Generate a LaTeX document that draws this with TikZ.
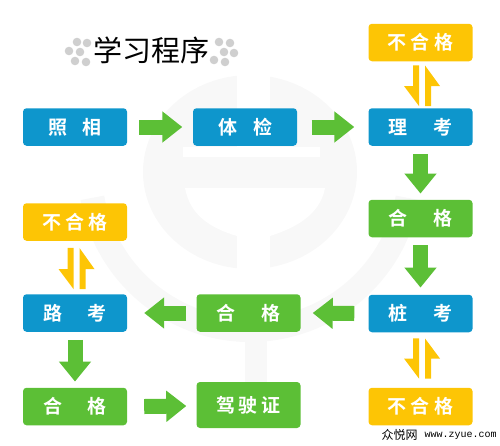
\documentclass[tikz,border=0pt]{standalone}
\usepackage{fontspec}
\newfontfamily\cjkb{Noto Sans CJK SC Bold}
\newfontfamily\cjkl{Noto Sans CJK SC}
\setmainfont{Noto Sans CJK SC}
\setmonofont{Liberation Mono}
\usetikzlibrary{arrows.meta,calc}
\definecolor{bluebox}{HTML}{0E96CC}
\definecolor{greenbox}{HTML}{5CBF36}
\definecolor{yellowbox}{HTML}{FDC505}
\definecolor{wmark}{HTML}{F8F8F8}
\definecolor{dotgray}{HTML}{CFCFCF}
\tikzset{
  boxbase/.style={rounded corners=3.5pt,minimum width=104pt,minimum height=37.5pt,inner sep=0pt,text=white,font=\cjkb\fontsize{19}{19}\selectfont},
  bluestep/.style={boxbase,fill=bluebox},
  greenstep/.style={boxbase,fill=greenbox},
  yellowstep/.style={boxbase,fill=yellowbox},
  flow/.style={draw=greenbox,line width=15pt,-{Triangle[length=20pt,width=30pt]}},
  flowv/.style={draw=greenbox,line width=15pt,-{Triangle[length=20pt,width=31pt]}},
  pawdot/.style={circle,fill=dotgray,inner sep=0pt,minimum size=8.6pt},
}
% #1 upper node, #2 lower node, #3 gap under the upper node, #4 gap over the lower node
\newcommand{\harpoons}[4]{%
  \fill[yellowbox] ($(#1.south)+(-7.5,#3)$) -- ++(6,0) -- ($(#2.north)+(-1.5,-#4)$) -- ++(-15,-20) -- ++(9,0) -- cycle;
  \fill[yellowbox] ($(#2.north)+(4.5,-#4)$) -- ++(6,0) -- ++(0,-20) -- ++(9,0) -- ($(#1.south)+(4.5,#3)$) -- cycle;
}
\begin{document}
\begin{tikzpicture}[x=1pt,y=-1pt]
\useasboundingbox (0,0) rectangle (500,445);
% background emblem
\draw[wmark,line width=24pt] (92.4,197.8) arc[start angle=190,end angle=350,radius=160pt];
\fill[wmark] (250,172) ellipse[x radius=107pt,y radius=97pt];
\fill[white] (183,147) rectangle (320,157);
\fill[white] (185,188) -- (325,188) .. controls (320,215) and (295,228) .. (270,236) -- (270,280) -- (237,280) -- (237,236) .. controls (210,228) and (190,215) .. (185,188) -- cycle;
\fill[white] (237,60) rectangle (270,147);
\fill[wmark] (245,325) rectangle (267,382);
% title
\foreach \n/\px/\py in {a/77/42,b/87/43,c/69/51,d/80/52,e/75/61,f/86/62,g/219/42,h/230/43,i/224/52,j/234/53,k/214/60,l/225/62}
  \node[pawdot] (dot\n) at (\px,\py) {};
\node[text=white,font=\cjkl\fontsize{29}{29}\selectfont] (titleshadow) at (153,51.5) {学习程序};
\node[text=black,font=\cjkl\fontsize{29}{29}\selectfont] (title) at (151.5,50) {学习程序};
% boxes
\node[bluestep] (photo) at (75,127) {照\hspace{16pt}相};
\node[bluestep] (health) at (245,127) {体\hspace{16pt}检};
\node[bluestep] (theory) at (420.5,127) {理\hspace{26pt}考};
\node[yellowstep] (fail1) at (420.5,42.5) {不\hspace{4.5pt}合\hspace{4.5pt}格};
\node[greenstep] (pass1) at (420.5,218.5) {合\hspace{26pt}格};
\node[bluestep] (pile) at (420.5,313.5) {桩\hspace{26pt}考};
\node[yellowstep] (fail2) at (420.5,406.5) {不\hspace{4.5pt}合\hspace{4.5pt}格};
\node[greenstep] (pass2) at (248.5,313) {合\hspace{26pt}格};
\node[bluestep] (road) at (75,313) {路\hspace{26pt}考};
\node[yellowstep] (fail3) at (75,222) {不\hspace{4.5pt}合\hspace{4.5pt}格};
\node[greenstep] (pass3) at (75,406.5) {合\hspace{26pt}格};
\node[greenstep,minimum height=46pt] (licence) at (248.5,405) {驾\hspace{3.5pt}驶\hspace{3.5pt}证};
% connectors
\draw[flow] ($(photo.east)+(12,0)$) -- ($(health.west)+(-10.5,0)$);
\draw[flow] ($(health.east)+(14.5,0)$) -- ($(theory.west)+(-14,0)$);
\draw[flowv] ($(theory.south)+(0,8)$) -- ($(pass1.north)+(0,-6)$);
\draw[flowv] ($(pass1.south)+(0,8)$) -- ($(pile.north)+(0,-7)$);
\draw[flow] ($(pile.west)+(-14,0)$) -- ($(pass2.east)+(12,0)$);
\draw[flow] ($(pass2.west)+(-10,0)$) -- ($(road.east)+(17,0)$);
\draw[flowv] ($(road.south)+(0,8)$) -- ($(pass3.north)+(0,-6)$);
\draw[flow] ($(pass3.east)+(17,0)$) -- ($(licence.west)+(-10,1)$);
\harpoons{fail1}{theory}{4}{2}
\harpoons{pile}{fail2}{6}{9}
\harpoons{fail3}{road}{7}{5}
% site mark
\node[inner sep=0pt,font=\cjkl\fontsize{12}{12}\selectfont] (brand) at (399.5,435) {众悦网};
\node[inner sep=0pt,font=\ttfamily\fontsize{10}{10}\selectfont] (site) at (460.5,436) {www.zyue.com};
\end{tikzpicture}
\end{document}
